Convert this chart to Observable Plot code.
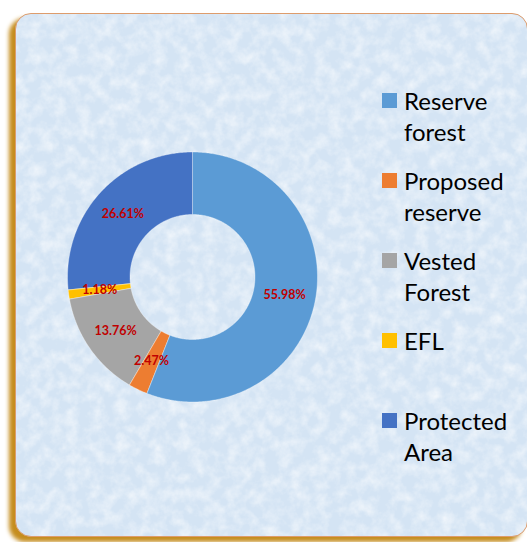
<!DOCTYPE html>
<html>
<head>
<meta charset="utf-8">
<script src="https://cdn.jsdelivr.net/npm/d3@7"></script>
<script src="https://cdn.jsdelivr.net/npm/@observablehq/plot@0.6"></script>
<style>
  html, body { margin: 0; padding: 0; background: #ffffff; }
  body { width: 527px; height: 542px; position: relative; overflow: hidden; font-family: Lato, "Open Sans", sans-serif; }
  #frame {
    position: absolute; left: 15px; top: 13px; width: 513px; height: 524px;
    box-sizing: border-box;
    border: 1.5px solid #dd9c6c;
    border-radius: 16px;
    background-color: #d4e4f4;
    background-image: url("data:image/svg+xml,%3Csvg xmlns='http://www.w3.org/2000/svg' width='520' height='530'%3E%3Cfilter id='n'%3E%3CfeTurbulence type='fractalNoise' baseFrequency='0.08' numOctaves='4' seed='5'/%3E%3CfeColorMatrix values='0 0 0 0 1 0 0 0 0 1 0 0 0 0 1 0 0 0 1.1 -0.4'/%3E%3C/filter%3E%3Crect width='100%25' height='100%25' filter='url(%23n)'/%3E%3C/svg%3E");
    box-shadow: -6px 5px 4px #c58d1e;
  }
  #chart { position: absolute; left: 0; top: 0; }
  #legend { position: absolute; left: 382px; top: 0; }
  .item { position: absolute; left: 0; width: 150px; }
  .sw { position: absolute; left: 0; width: 15px; height: 15px; }
  .lab { position: absolute; left: 22px; font-size: 24px; line-height: 31px; color: #000; white-space: nowrap; font-family: Lato, sans-serif; }
</style>
</head>
<body>
<div id="frame"></div>
<div id="chart"></div>
<div id="legend"></div>
<script>
const categories = ["Reserve forest", "Proposed reserve", "Vested Forest", "EFL", "Protected Area"];
const shares = [55.98, 2.47, 13.76, 1.18, 26.61];
const colors = ["#5B9BD5", "#ED7D31", "#A5A5A5", "#FFC000", "#4472C4"];
const labels = ["55.98%", "2.47%", "13.76%", "1.18%", "26.61%"];
const legendLines = [["Reserve", "forest"], ["Proposed", "reserve"], ["Vested", "Forest"], ["EFL"], ["Protected", "Area"]];

const rows = categories.map((c, i) => ({category: c, share: shares[i], label: labels[i]}));
const arcs = d3.pie().sort(null).value(d => d.share)(rows);

const inner = 0.5;
const ringPts = [];
arcs.forEach(a => {
  const n = Math.max(2, Math.ceil((a.endAngle - a.startAngle) / 0.01));
  for (let k = 0; k <= n; k++) {
    const t = a.startAngle + (a.endAngle - a.startAngle) * k / n;
    ringPts.push({category: a.data.category, x: Math.sin(t), y: Math.cos(t)});
  }
  for (let k = n; k >= 0; k--) {
    const t = a.startAngle + (a.endAngle - a.startAngle) * k / n;
    ringPts.push({category: a.data.category, x: inner * Math.sin(t), y: inner * Math.cos(t)});
  }
});
const lr = (1 + inner) / 2;
const labelPts = arcs.map(a => {
  const m = (a.startAngle + a.endAngle) / 2;
  return {x: lr * Math.sin(m), y: lr * Math.cos(m), text: a.data.label};
});

const cx = 192, cy = 276.5, R = 125;
const chart = Plot.plot({
  width: 527, height: 542, margin: 0,
  x: {domain: [-1, 1], range: [cx - R, cx + R], axis: null},
  y: {domain: [-1, 1], range: [cy + R, cy - R], axis: null},
  color: {domain: categories, range: colors},
  style: {background: "transparent", overflow: "visible"},
  marks: [
    Plot.line(ringPts, {x: "x", y: "y", z: "category", fill: "category", stroke: "#ffffff", strokeOpacity: 0.5, strokeWidth: 0.7, curve: "linear-closed"}),
    Plot.text(labelPts, {x: "x", y: "y", text: "text", fill: "#C00000", fontWeight: "bold", fontSize: 12.5, fontFamily: "Lato, sans-serif"})
  ]
});
document.getElementById("chart").appendChild(chart);

const legend = document.getElementById("legend");
categories.forEach((c, i) => {
  const item = document.createElement("div");
  item.className = "item";
  item.style.top = (85 + i * 80) + "px";
  const sw = document.createElement("div");
  sw.className = "sw";
  sw.style.background = colors[i];
  sw.style.top = "8px";
  item.appendChild(sw);
  legendLines[i].forEach((t, j) => {
    const s = document.createElement("div");
    s.className = "lab";
    s.style.top = (j * 31) + "px";
    s.textContent = t;
    item.appendChild(s);
  });
  legend.appendChild(item);
});
</script>
</body>
</html>
